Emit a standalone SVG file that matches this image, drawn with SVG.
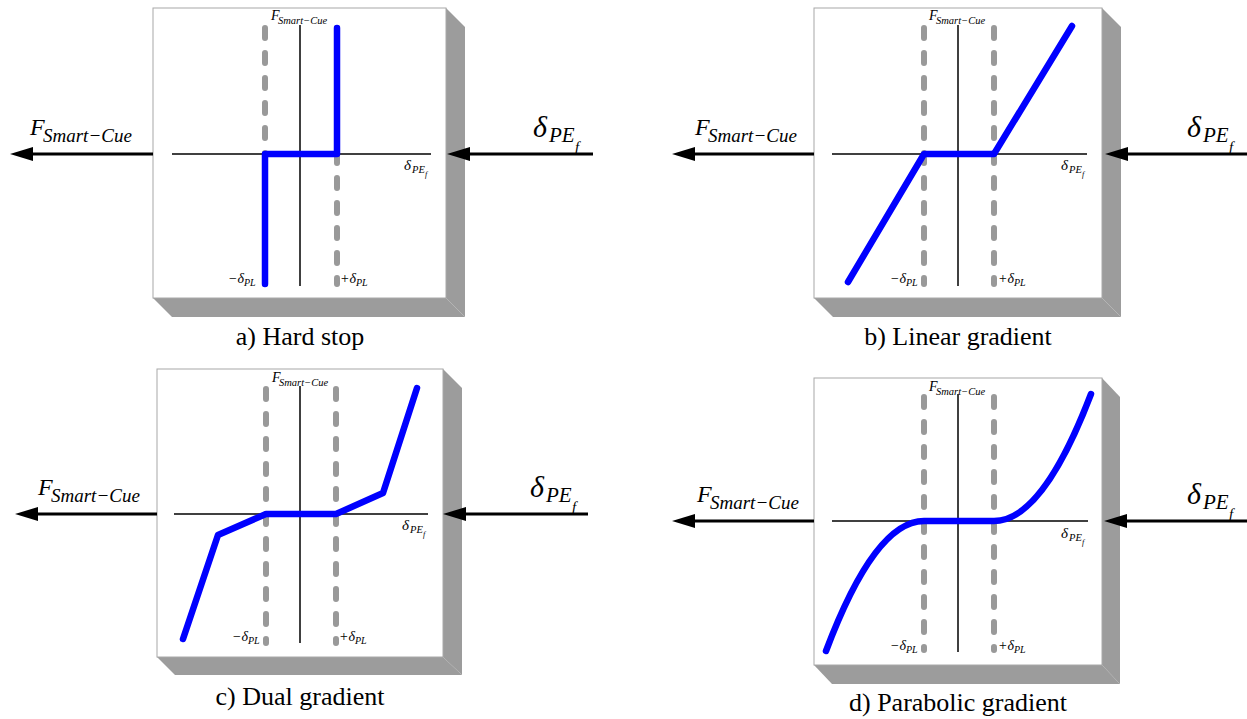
<svg xmlns="http://www.w3.org/2000/svg" width="1247" height="719" viewBox="0 0 1247 719">
<style>
.bg{fill:#fff}
.box{fill:#fff;stroke:#a8a8a8;stroke-width:1}
.shadow{fill:#9c9c9c}
.axis{stroke:#000;stroke-width:1.5;fill:none}
.dash{stroke:#999;stroke-width:6;stroke-linecap:round;stroke-dasharray:10 15;fill:none}
.curve{stroke:#0000ff;stroke-width:6.5;fill:none;stroke-linecap:round;stroke-linejoin:round}
.arrow{stroke:#000;stroke-width:3;fill:none;marker-end:url(#ah)}
.m{font-family:'Liberation Serif','Times New Roman',serif;font-style:italic;fill:#000}
.cap{font-family:'Liberation Serif','Times New Roman',serif;font-size:26px;text-anchor:middle;fill:#000}
</style>
<defs>
<marker id="ah" markerUnits="userSpaceOnUse" markerWidth="24" markerHeight="16" refX="13" refY="8" orient="auto">
<path d="M0,1 L23,8 L0,15 Z" fill="#000"/>
</marker>
</defs>
<rect class="bg" x="0" y="0" width="1247" height="719"/>

<g id="panel-a">
<polygon class="shadow" points="446,8 465,27 465,317 446,298"/>
<polygon class="shadow" points="153,298 446,298 465,317 172,317"/>
<rect class="box" x="153" y="8" width="293" height="290"/>
<line class="axis" x1="172" y1="154" x2="431" y2="154"/>
<line class="axis" x1="300" y1="25" x2="300" y2="286"/>
<line class="dash" x1="265" y1="28" x2="265" y2="284"/>
<line class="dash" x1="337" y1="28" x2="337" y2="284"/>
<polyline class="curve" points="265,284 265,154 337,154 337,28"/>
<text class="m" x="271" y="20" font-size="14">F<tspan x="278" y="24" font-size="10.5">Smart−Cue</tspan></text>
<text class="m" x="404" y="170" font-size="15">δ<tspan x="412" y="173" font-size="10.5">PE</tspan><tspan x="425" y="177" font-size="8">f</tspan></text>
<text class="m" x="228" y="283" font-size="14">−δ<tspan y="286" font-size="10">PL</tspan></text>
<text class="m" x="340" y="283" font-size="14">+δ<tspan y="286" font-size="10">PL</tspan></text>
<text class="cap" x="300" y="345">a) Hard stop</text>
</g>

<g id="panel-b">
<polygon class="shadow" points="1102,8 1121,27 1121,317 1102,298"/>
<polygon class="shadow" points="814,298 1102,298 1121,317 833,317"/>
<rect class="box" x="814" y="8" width="288" height="290"/>
<line class="axis" x1="832" y1="154" x2="1087" y2="154"/>
<line class="axis" x1="958" y1="25" x2="958" y2="286"/>
<line class="dash" x1="924" y1="28" x2="924" y2="284"/>
<line class="dash" x1="994" y1="28" x2="994" y2="284"/>
<polyline class="curve" points="848,282 924,154 994,154 1072,26"/>
<text class="m" x="929" y="20" font-size="14">F<tspan x="936" y="24" font-size="10.5">Smart−Cue</tspan></text>
<text class="m" x="1061" y="170" font-size="15">δ<tspan x="1069" y="173" font-size="10.5">PE</tspan><tspan x="1082" y="177" font-size="8">f</tspan></text>
<text class="m" x="890" y="283" font-size="14">−δ<tspan y="286" font-size="10">PL</tspan></text>
<text class="m" x="998" y="283" font-size="14">+δ<tspan y="286" font-size="10">PL</tspan></text>
<text class="cap" x="958" y="345">b) Linear gradient</text>
</g>

<g id="panel-c">
<polygon class="shadow" points="443,369 462,388 462,675 443,657"/>
<polygon class="shadow" points="157,657 443,657 462,675 175,675"/>
<rect class="box" x="157" y="369" width="286" height="288"/>
<line class="axis" x1="174" y1="514" x2="428" y2="514"/>
<line class="axis" x1="300" y1="386" x2="300" y2="643"/>
<line class="dash" x1="266" y1="389" x2="266" y2="643"/>
<line class="dash" x1="336" y1="389" x2="336" y2="643"/>
<polyline class="curve" points="183,639 218,535 266,514 336,514 383,493 417,388"/>
<text class="m" x="272" y="382" font-size="14">F<tspan x="279" y="386" font-size="10.5">Smart−Cue</tspan></text>
<text class="m" x="402" y="530" font-size="15">δ<tspan x="410" y="533" font-size="10.5">PE</tspan><tspan x="423" y="537" font-size="8">f</tspan></text>
<text class="m" x="232" y="641" font-size="14">−δ<tspan y="644" font-size="10">PL</tspan></text>
<text class="m" x="339" y="641" font-size="14">+δ<tspan y="644" font-size="10">PL</tspan></text>
<text class="cap" x="300" y="705">c) Dual gradient</text>
</g>

<g id="panel-d">
<polygon class="shadow" points="1102,378 1120,397 1120,684 1102,665"/>
<polygon class="shadow" points="814,665 1102,665 1120,684 832,684"/>
<rect class="box" x="814" y="378" width="288" height="287"/>
<line class="axis" x1="832" y1="521" x2="1088" y2="521"/>
<line class="axis" x1="958" y1="394" x2="958" y2="652"/>
<line class="dash" x1="924" y1="397" x2="924" y2="650"/>
<line class="dash" x1="994" y1="397" x2="994" y2="650"/>
<path class="curve" d="M826,651 Q875,521 924,521 L994,521 Q1042.5,521 1091,394"/>
<text class="m" x="929" y="391" font-size="14">F<tspan x="936" y="395" font-size="10.5">Smart−Cue</tspan></text>
<text class="m" x="1061" y="538" font-size="15">δ<tspan x="1069" y="541" font-size="10.5">PE</tspan><tspan x="1082" y="545" font-size="8">f</tspan></text>
<text class="m" x="890" y="650" font-size="14">−δ<tspan y="653" font-size="10">PL</tspan></text>
<text class="m" x="998" y="650" font-size="14">+δ<tspan y="653" font-size="10">PL</tspan></text>
<text class="cap" x="958" y="711">d) Parabolic gradient</text>
</g>

<g id="connectors">
<line class="arrow" x1="153" y1="154" x2="20" y2="154"/>
<line class="arrow" x1="593" y1="154" x2="457" y2="154"/>
<line class="arrow" x1="814" y1="154" x2="682" y2="154"/>
<line class="arrow" x1="1247" y1="154" x2="1115" y2="154"/>
<line class="arrow" x1="157" y1="514" x2="25" y2="514"/>
<line class="arrow" x1="588" y1="514" x2="453" y2="514"/>
<line class="arrow" x1="814" y1="521" x2="682" y2="521"/>
<line class="arrow" x1="1247" y1="521" x2="1114" y2="521"/>
</g>

<g id="io-labels">
<text class="m" x="30" y="135" font-size="24">F<tspan x="43" y="142" font-size="19">Smart−Cue</tspan></text>
<text class="m" x="533" y="137" font-size="30">δ<tspan x="549" y="142" font-size="21">PE</tspan><tspan x="575" y="152" font-size="15">f</tspan></text>
<text class="m" x="695" y="135" font-size="24">F<tspan x="708" y="142" font-size="19">Smart−Cue</tspan></text>
<text class="m" x="1187" y="137" font-size="30">δ<tspan x="1203" y="142" font-size="21">PE</tspan><tspan x="1229" y="152" font-size="15">f</tspan></text>
<text class="m" x="38" y="495" font-size="24">F<tspan x="51" y="502" font-size="19">Smart−Cue</tspan></text>
<text class="m" x="530" y="497" font-size="30">δ<tspan x="546" y="502" font-size="21">PE</tspan><tspan x="572" y="512" font-size="15">f</tspan></text>
<text class="m" x="697" y="502" font-size="24">F<tspan x="710" y="509" font-size="19">Smart−Cue</tspan></text>
<text class="m" x="1187" y="504" font-size="30">δ<tspan x="1203" y="509" font-size="21">PE</tspan><tspan x="1229" y="519" font-size="15">f</tspan></text>
</g>
</svg>
